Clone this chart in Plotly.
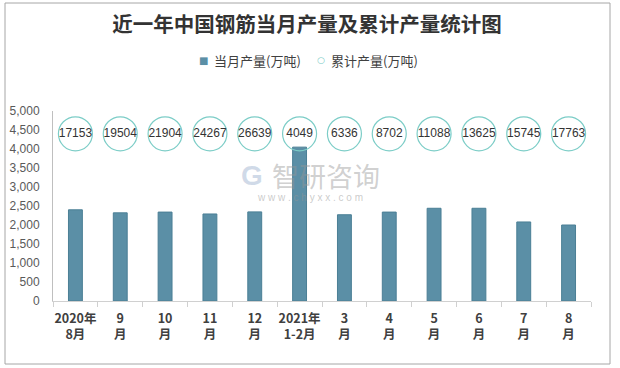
import plotly.graph_objects as go

categories = ["2020年<br>8月", "9<br>月", "10<br>月", "11<br>月", "12<br>月", "2021年<br>1-2月",
              "3<br>月", "4<br>月", "5<br>月", "6<br>月", "7<br>月", "8<br>月"]
monthly = [2400, 2320, 2340, 2290, 2345, 4049, 2270, 2340, 2440, 2440, 2080, 2000]
cumulative = [17153, 19504, 21904, 24267, 26639, 4049, 6336, 8702, 11088, 13625, 15745, 17763]
y_ticks = [0, 500, 1000, 1500, 2000, 2500, 3000, 3500, 4000, 4500, 5000]
legend_names = ["当月产量(万吨)", "累计产量(万吨)"]

BAR = "#5b8fa6"
CIRC = "#7ccdc7"
FONT = "Noto Sans CJK SC"

# plot-area pixel geometry (for placing paper-relative decorations)
L, R, T, B = 53, 591, 111, 301
W, H = R - L, B - T


def px(x):
    return (x - L) / W


def py(y):
    return (B - y) / H


fig = go.Figure()
fig.add_trace(go.Bar(x=categories, y=monthly, marker=dict(color=BAR, line=dict(color="#4b7f95", width=1)),
                     width=0.31, showlegend=False, name=legend_names[0]))
fig.add_trace(go.Scatter(x=categories, y=[0.88] * len(categories), yaxis="y2", mode="markers+text",
                         marker=dict(symbol="circle-open", size=34, color=CIRC, line=dict(width=1.2, color=CIRC)),
                         text=[str(v) for v in cumulative], textposition="middle center",
                         textfont=dict(size=12, color="#333333", family="Liberation Sans"),
                         showlegend=False, cliponaxis=False, name=legend_names[1]))

fig.update_layout(
    width=620, height=368,
    margin=dict(l=L, r=620 - R, t=T, b=368 - B, autoexpand=False),
    paper_bgcolor="white", plot_bgcolor="white",
    barmode="overlay", showlegend=False,
    font=dict(family=FONT, color="#595959", size=12),
    title=dict(text="<b>近一年中国钢筋当月产量及累计产量统计图</b>", x=307 / 620, xanchor="center",
               yref="container", y=1 - 25 / 368, yanchor="middle",
               font=dict(size=20.5, color="#333333", family=FONT)),
    xaxis=dict(type="category", showline=True, linecolor="#d0d0d0", linewidth=1, automargin=False,
               ticks="outside", tickson="boundaries", ticklen=5, tickcolor="#d0d0d0",
               tickfont=dict(size=12.5, color="#404040", family=FONT), tickangle=0,
               ticklabelstandoff=6, range=[-0.5, len(categories) - 0.5]),
    yaxis=dict(range=[0, 5000], tickvals=y_ticks, tickformat=",", showgrid=False, automargin=False,
               showline=True, linecolor="#bfbfbf", linewidth=1, ticks="", zeroline=False,
               ticklabelstandoff=10, tickfont=dict(size=12, color="#595959", family="Liberation Sans")),
    yaxis2=dict(range=[0, 1], overlaying="y", visible=False),
)

fig.update_xaxes(ticktext=["<b>" + c + "</b>" for c in categories], tickvals=categories)

# custom legend (symbol tight against the text, as in the reference)
ly = py(60)
fig.add_annotation(text="■", xref="paper", yref="paper", x=px(210), y=ly, xanchor="right", yanchor="middle",
                   showarrow=False, font=dict(size=10, color=BAR, family="DejaVu Sans"))
fig.add_annotation(text=legend_names[0], xref="paper", yref="paper", x=px(212), y=ly, xanchor="left",
                   yanchor="middle", showarrow=False, font=dict(size=13, color="#404040", family=FONT))
fig.add_annotation(text="○", xref="paper", yref="paper", x=px(327), y=ly, xanchor="right", yanchor="middle",
                   showarrow=False, font=dict(size=9, color=CIRC, family="DejaVu Sans"))
fig.add_annotation(text=legend_names[1], xref="paper", yref="paper", x=px(329), y=ly, xanchor="left",
                   yanchor="middle", showarrow=False, font=dict(size=13, color="#404040", family=FONT))

# watermark
fig.add_annotation(text="智研咨询", xref="paper", yref="paper", x=px(326), y=py(175), yanchor="middle",
                   showarrow=False, font=dict(size=27, color="rgba(150,150,150,0.45)", family=FONT))
fig.add_annotation(text="w w w . c h y x x . c o m", xref="paper", yref="paper", x=px(310), y=py(197),
                   yanchor="middle", showarrow=False,
                   font=dict(size=10, color="rgba(150,150,150,0.5)", family="Liberation Sans"))
fig.add_annotation(text="<b>G</b>", xref="paper", yref="paper", x=px(252), y=py(175), yanchor="middle",
                   showarrow=False, font=dict(size=28, color="rgba(120,150,190,0.35)", family="Liberation Sans"))

# outer border
fig.add_shape(type="rect", xref="paper", yref="paper",
              x0=px(5), x1=px(610), y0=py(364), y1=py(3),
              line=dict(color="#a6a6a6", width=1), fillcolor="rgba(0,0,0,0)", layer="below")

fig.write_html("out.html", config={"displayModeBar": False},
               post_script="document.body.style.margin='0';document.body.style.padding='0';")
